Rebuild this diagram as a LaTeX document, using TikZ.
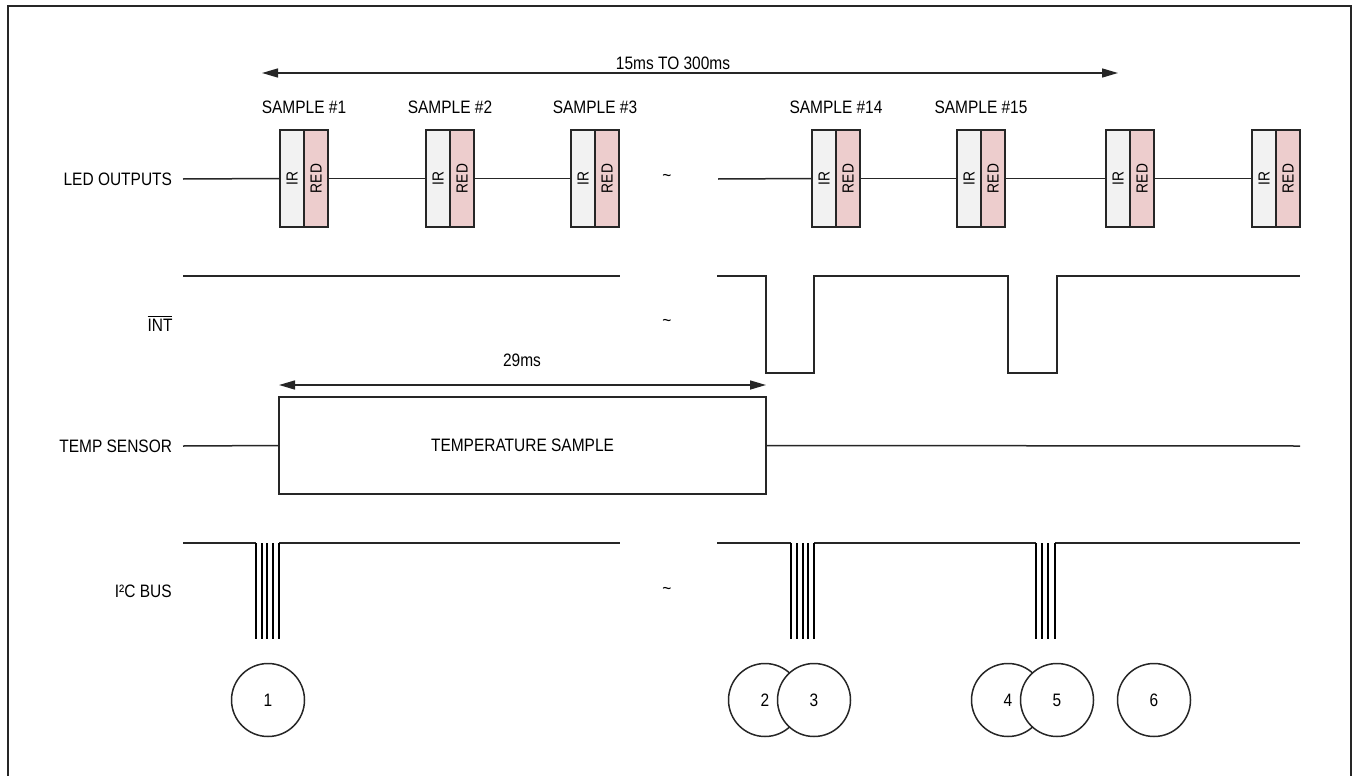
\documentclass[tikz,border=0pt]{standalone}
\usepackage{fontspec}
\setmainfont{Liberation Sans}[FakeStretch=0.86]
\usetikzlibrary{arrows.meta,positioning}
\definecolor{IrGray}{HTML}{F2F2F2}
\definecolor{RedPink}{HTML}{EDCDCD}
\definecolor{WireGray}{HTML}{262626}
\newcommand{\vtag}[1]{\rotatebox{90}{#1}}

\begin{document}
\begin{tikzpicture}[
    x=0.5pt, y=-0.5pt,
    font=\fontsize{9}{10}\selectfont,
    sig/.style={draw=WireGray, line width=0.75pt},
    bar/.style={draw=black, line width=1pt},
    irbox/.style={rectangle, draw=WireGray, line width=0.75pt, fill=IrGray, minimum width=12pt, minimum height=48.5pt, inner sep=0pt, outer sep=0pt, font=\fontsize{8}{9}\selectfont},
    redbox/.style={irbox, fill=RedPink},
    rowlbl/.style={anchor=east, inner xsep=5.5pt, inner ysep=0pt, outer sep=0pt},
    smplbl/.style={above=4.5pt},
    evt/.style={circle, draw=WireGray, line width=0.75pt, fill=white, minimum size=36.5pt, inner sep=0pt},
    dimarrow/.style={{Triangle[length=8pt,width=4.5pt]}-{Triangle[length=8pt,width=4.5pt]}, draw=WireGray, line width=0.75pt}
]
\useasboundingbox (0,0) rectangle (1354,776);
\draw[draw=WireGray, line width=1pt] (8,778) |- (1351,6) -- (1351,778);

% row labels
\node[rowlbl] (ledlbl) at (183,179) {LED OUTPUTS};
\node (intlbl) at (160,323) {$\overline{\mbox{INT}}$};
\node[rowlbl] (templbl) at (183,446) {TEMP SENSOR};
\node[anchor=east, inner sep=0pt] (i2clbl) at (172,591) {I²C BUS};

% LED samples
\node[irbox] (ir1) at (292,178.5) {\vtag{IR}};
\node[redbox, right=0pt of ir1] (red1) {\vtag{RED}};
\node[irbox] (ir2) at (438,178.5) {\vtag{IR}};
\node[redbox, right=0pt of ir2] (red2) {\vtag{RED}};
\node[irbox] (ir3) at (583,178.5) {\vtag{IR}};
\node[redbox, right=0pt of ir3] (red3) {\vtag{RED}};
\node[irbox] (ir14) at (824,178.5) {\vtag{IR}};
\node[redbox, right=0pt of ir14] (red14) {\vtag{RED}};
\node[irbox] (ir15) at (969,178.5) {\vtag{IR}};
\node[redbox, right=0pt of ir15] (red15) {\vtag{RED}};
\node[irbox] (ir16) at (1118,178.5) {\vtag{IR}};
\node[redbox, right=0pt of ir16] (red16) {\vtag{RED}};
\node[irbox] (ir17) at (1264,178.5) {\vtag{IR}};
\node[redbox, right=0pt of ir17] (red17) {\vtag{RED}};

\node[smplbl] (smp1) at (ir1.north east) {SAMPLE \#1};
\node[smplbl] (smp2) at (ir2.north east) {SAMPLE \#2};
\node[smplbl] (smp3) at (ir3.north east) {SAMPLE \#3};
\node[smplbl] (smp14) at (ir14.north east) {SAMPLE \#14};
\node[smplbl] (smp15) at (ir15.north east) {SAMPLE \#15};

\coordinate (ledgap) at (718,179);
\draw[sig] (ledlbl.east) -- (ir1.west);
\draw[sig] (red1.east) -- (ir2.west);
\draw[sig] (red2.east) -- (ir3.west);
\draw[sig] (ledgap) -- (ir14.west);
\draw[sig] (red14.east) -- (ir15.west);
\draw[sig] (red15.east) -- (ir16.west);
\draw[sig] (red16.east) -- (ir17.west);

% sample period
\coordinate (spanL) at (262,73);
\draw[dimarrow] (spanL) -- (spanL -| ir16);
\node (spanlbl) at (673,63) {15ms TO 300ms};

% breaks
\node (brk1) at (667,178) {\textasciitilde};
\node (brk2) at (667,323) {\textasciitilde};
\node (brk3) at (667,591) {\textasciitilde};

% INT
\draw[sig] (183,276) -- (620,276);
\draw[sig] (717,276) -- (766,276) -- (766,373) -- (814,373) -- (814,276)
    -- (1008,276) -- (1008,373) -- (1057,373) -- (1057,276) -- (1300,276);

% temperature
\node[rectangle, draw=WireGray, line width=0.75pt, minimum width=243.5pt, minimum height=48.5pt, inner sep=0pt, outer sep=0pt] (tempbox) at (522.5,445.5) {TEMPERATURE SAMPLE};
\coordinate (tempend) at (1300,446);
\draw[sig] (templbl.east) -- (tempbox.west);
\draw[sig] (tempbox.east) -- (tempend);
\draw[dimarrow] ([yshift=6pt]tempbox.north west) -- ([yshift=6pt]tempbox.north east);
\node (convlbl) at (522,360) {29ms};

% I2C
\draw[sig] (183,543) -- (256,543);
\draw[sig] (279,543) -- (620,543);
\draw[sig] (717,543) -- (791,543);
\draw[sig] (814,543) -- (1036,543);
\draw[sig] (1055,543) -- (1300,543);
\draw[bar] (256,543) -- (256,639);
\draw[bar] (261.5,543) -- (261.5,639);
\draw[bar] (267,543) -- (267,639);
\draw[bar] (272.5,543) -- (272.5,639);
\draw[bar] (278.5,543) -- (278.5,639);
\draw[bar] (791,543) -- (791,639);
\draw[bar] (797,543) -- (797,639);
\draw[bar] (802.5,543) -- (802.5,639);
\draw[bar] (808,543) -- (808,639);
\draw[bar] (814,543) -- (814,639);
\draw[bar] (1036,543) -- (1036,639);
\draw[bar] (1042,543) -- (1042,639);
\draw[bar] (1048,543) -- (1048,639);
\draw[bar] (1054.5,543) -- (1054.5,639);

% events
\node[evt] (ev1) at (268,700) {1};
\node[evt] (ev2) at (765,700) {2};
\node[evt] (ev3) at (814,700) {3};
\node[evt] (ev4) at (1008,700) {4};
\node[evt] (ev5) at (1057,700) {5};
\node[evt] (ev6) at (1154,700) {6};
\end{tikzpicture}
\end{document}
